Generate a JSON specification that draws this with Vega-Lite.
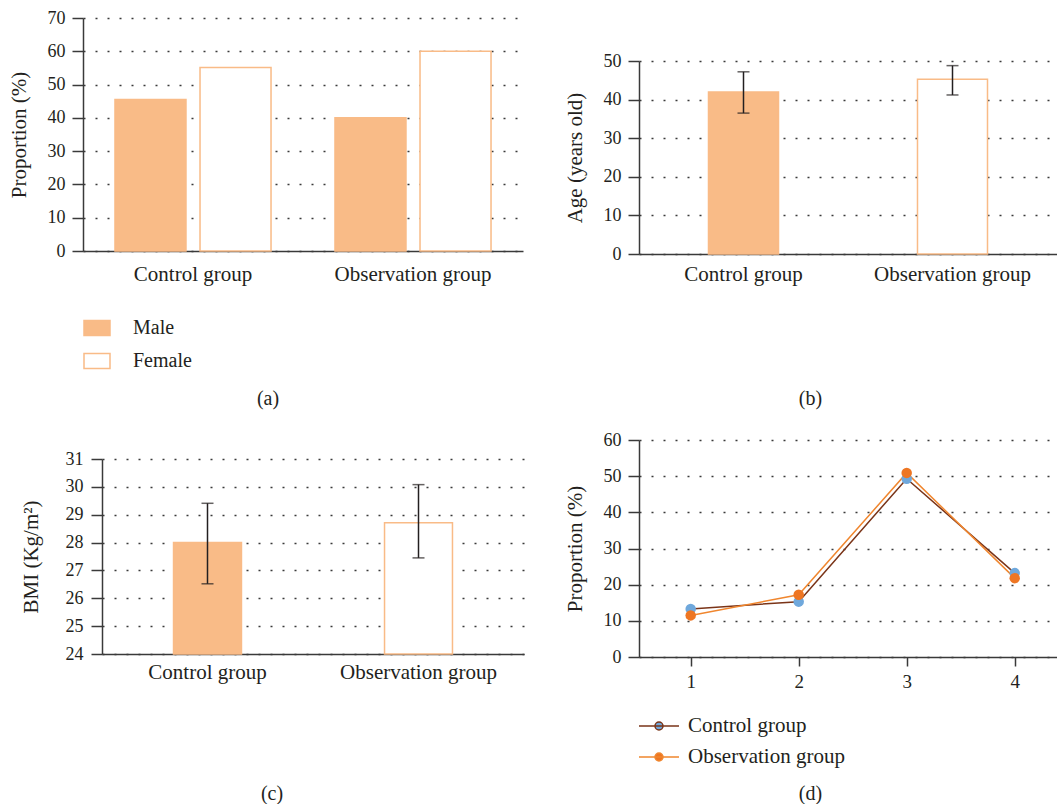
{
  "$schema": "https://vega.github.io/schema/vega-lite/v6.json",
  "padding": {"left": 8, "top": 9, "right": 0, "bottom": 0},
  "spacing": 22,
  "resolve": {"scale": {"fill": "independent", "color": "independent"}, "legend": {"fill": "independent", "color": "independent"}},
  "config": {
    "font": "Liberation Serif",
    "view": {"stroke": null},
    "axis": {
      "labelFont": "Liberation Serif", "labelFontSize": 18, "labelColor": "#231f20",
      "titleFont": "Liberation Serif", "titleFontSize": 21, "titleFontWeight": "normal", "titleColor": "#231f20",
      "domainColor": "#3a3a3a", "domainWidth": 1.5, "tickColor": "#3a3a3a", "tickWidth": 1.5,
      "gridColor": "#3a3a3a", "gridDash": [2, 10], "gridWidth": 1.3
    },
    "axisX": {"grid": false},
    "title": {"font": "Liberation Serif", "fontSize": 20, "fontWeight": "normal", "color": "#231f20", "orient": "bottom", "frame": "bounds", "anchor": "middle"},
    "legend": {"labelFont": "Liberation Serif", "labelFontSize": 20, "labelColor": "#231f20"}
  },
  "hconcat": [
    {
      "spacing": 41,
      "resolve": {"scale": {"fill": "independent", "color": "independent"}, "legend": {"fill": "independent", "color": "independent"}},
      "vconcat": [
        {
          "width": 421, "height": 233,
          "title": {"text": "(a)", "offset": 17, "dx": -7},
          "data": {"values": [
            {"group": "Control group", "sex": "Male", "value": 45.5},
            {"group": "Control group", "sex": "Female", "value": 55.1},
            {"group": "Observation group", "sex": "Male", "value": 40},
            {"group": "Observation group", "sex": "Female", "value": 60}
          ]},
          "mark": {"type": "bar", "stroke": "#f9bb87", "strokeWidth": 1.5},
          "encoding": {
            "x": {"field": "group", "type": "nominal", "sort": null, "scale": {"paddingInner": 0, "paddingOuter": 0, "range": [-19, 421]},
                  "axis": {"title": null, "labelAngle": 0, "ticks": false, "labelPadding": 12, "labelFontSize": 21}},
            "xOffset": {"field": "sex", "sort": ["Male", "Female"], "scale": {"paddingInner": 0.165, "paddingOuter": 0.376}},
            "y": {"field": "value", "type": "quantitative", "scale": {"domain": [0, 70]},
                  "axis": {"title": "Proportion (%)", "values": [0, 10, 20, 30, 40, 50, 60, 70], "grid": true, "offset": 19, "tickSize": 11, "labelPadding": 7, "titlePadding": 18}},
            "fill": {"field": "sex", "type": "nominal", "sort": ["Male", "Female"],
                     "scale": {"domain": ["Male", "Female"], "range": ["#f9bb87", "#ffffff"]},
                     "legend": {"title": null, "orient": "none", "legendX": -19, "legendY": 296, "direction": "vertical",
                                "symbolType": "M-1,-0.58H1V0.58H-1Z", "symbolSize": 676, "symbolStrokeColor": "#f9bb87", "symbolStrokeWidth": 1.5,
                                "labelOffset": 22, "rowPadding": 8}}
          }
        },
        {
          "width": 422, "height": 195,
          "title": {"text": "(c)", "offset": 102},
          "data": {"values": [
            {"group": "Control group", "value": 28.0, "lo": 26.52, "hi": 29.41},
            {"group": "Observation group", "value": 28.71, "lo": 27.45, "hi": 30.08}
          ]},
          "encoding": {
            "x": {"field": "group", "type": "nominal", "sort": null, "scale": {"paddingInner": 0, "paddingOuter": 0},
                  "axis": {"title": null, "labelAngle": 0, "ticks": false, "labelPadding": 7, "labelFontSize": 21}}
          },
          "layer": [
            {
              "mark": {"type": "bar", "stroke": "#f9bb87", "strokeWidth": 1.5, "width": {"band": 0.322}},
              "encoding": {
                "y": {"field": "value", "type": "quantitative", "scale": {"domain": [24, 31], "zero": false},
                      "axis": {"title": "BMI (Kg/m²)", "values": [24, 25, 26, 27, 28, 29, 30, 31], "grid": true, "tickSize": 11, "labelPadding": 8, "titlePadding": 24}},
                "y2": {"datum": 24},
                "fill": {"field": "group", "type": "nominal", "scale": {"domain": ["Control group", "Observation group"], "range": ["#f9bb87", "#ffffff"]}, "legend": null}
              }
            },
            {
              "mark": {"type": "rule", "color": "#231f20", "strokeWidth": 1.5},
              "encoding": {"y": {"field": "lo", "type": "quantitative", "scale": {"domain": [24, 31], "zero": false},
                      "axis": {"title": "BMI (Kg/m²)", "values": [24, 25, 26, 27, 28, 29, 30, 31], "grid": true, "tickSize": 11, "labelPadding": 8, "titlePadding": 24}}, "y2": {"field": "hi"}}
            },
            {
              "mark": {"type": "tick", "color": "#231f20", "thickness": 1.5, "size": 12},
              "encoding": {"y": {"field": "lo", "type": "quantitative", "scale": {"domain": [24, 31], "zero": false},
                      "axis": {"title": "BMI (Kg/m²)", "values": [24, 25, 26, 27, 28, 29, 30, 31], "grid": true, "tickSize": 11, "labelPadding": 8, "titlePadding": 24}}}
            },
            {
              "mark": {"type": "tick", "color": "#231f20", "thickness": 1.5, "size": 12},
              "encoding": {"y": {"field": "hi", "type": "quantitative", "scale": {"domain": [24, 31], "zero": false},
                      "axis": {"title": "BMI (Kg/m²)", "values": [24, 25, 26, 27, 28, 29, 30, 31], "grid": true, "tickSize": 11, "labelPadding": 8, "titlePadding": 24}}}
            }
          ]
        }
      ]
    },
    {
      "spacing": 22,
      "resolve": {"scale": {"fill": "independent", "color": "independent"}, "legend": {"fill": "independent", "color": "independent"}},
      "vconcat": [
        {"width": 10, "height": 12, "data": {"values": []}, "mark": "text"},
        {
          "width": 418, "height": 193,
          "title": {"text": "(b)", "offset": 105},
          "data": {"values": [
            {"group": "Control group", "value": 42, "lo": 36.5, "hi": 47.2},
            {"group": "Observation group", "value": 45.3, "lo": 41.2, "hi": 48.8}
          ]},
          "encoding": {
            "x": {"field": "group", "type": "nominal", "sort": null, "scale": {"paddingInner": 0, "paddingOuter": 0},
                  "axis": {"title": null, "labelAngle": 0, "ticks": false, "labelPadding": 9, "labelFontSize": 21}}
          },
          "layer": [
            {
              "mark": {"type": "bar", "stroke": "#f9bb87", "strokeWidth": 1.5, "width": {"band": 0.335}},
              "encoding": {
                "y": {"field": "value", "type": "quantitative", "scale": {"domain": [0, 50]},
                      "axis": {"title": "Age (years old)", "values": [0, 10, 20, 30, 40, 50], "grid": true, "tickSize": 11, "labelPadding": 7, "titlePadding": 18}},
                "fill": {"field": "group", "type": "nominal", "scale": {"domain": ["Control group", "Observation group"], "range": ["#f9bb87", "#ffffff"]}, "legend": null}
              }
            },
            {
              "mark": {"type": "rule", "color": "#231f20", "strokeWidth": 1.5},
              "encoding": {"y": {"field": "lo", "type": "quantitative", "scale": {"domain": [0, 50]},
                      "axis": {"title": "Age (years old)", "values": [0, 10, 20, 30, 40, 50], "grid": true, "tickSize": 11, "labelPadding": 7, "titlePadding": 18}}, "y2": {"field": "hi"}}
            },
            {
              "mark": {"type": "tick", "color": "#231f20", "thickness": 1.5, "size": 12},
              "encoding": {"y": {"field": "lo", "type": "quantitative", "scale": {"domain": [0, 50]},
                      "axis": {"title": "Age (years old)", "values": [0, 10, 20, 30, 40, 50], "grid": true, "tickSize": 11, "labelPadding": 7, "titlePadding": 18}}}
            },
            {
              "mark": {"type": "tick", "color": "#231f20", "thickness": 1.5, "size": 12},
              "encoding": {"y": {"field": "hi", "type": "quantitative", "scale": {"domain": [0, 50]},
                      "axis": {"title": "Age (years old)", "values": [0, 10, 20, 30, 40, 50], "grid": true, "tickSize": 11, "labelPadding": 7, "titlePadding": 18}}}
            }
          ]
        },
        {
          "width": 418, "height": 217,
          "title": {"text": "(d)", "offset": 17},
          "data": {"values": [
            {"x": "1", "group": "Control group", "value": 13.3},
            {"x": "2", "group": "Control group", "value": 15.3},
            {"x": "3", "group": "Control group", "value": 49.3},
            {"x": "4", "group": "Control group", "value": 23.2},
            {"x": "1", "group": "Observation group", "value": 11.5},
            {"x": "2", "group": "Observation group", "value": 17.2},
            {"x": "3", "group": "Observation group", "value": 50.9},
            {"x": "4", "group": "Observation group", "value": 21.8}
          ]},
          "resolve": {"scale": {"fill": "independent", "color": "independent"}, "legend": {"fill": "independent", "color": "independent"}},
          "encoding": {
            "x": {"field": "x", "type": "ordinal", "scale": {"type": "point", "padding": 0.435, "align": 0.55},
                  "axis": {"title": null, "labelAngle": 0, "ticks": true, "tickSize": 9, "labelPadding": 6, "labelFontSize": 19}},
            "y": {"field": "value", "type": "quantitative", "scale": {"domain": [0, 60]},
                  "axis": {"title": "Proportion (%)", "values": [0, 10, 20, 30, 40, 50, 60], "grid": true, "tickSize": 11, "labelPadding": 7, "titlePadding": 18}}
          },
          "layer": [
            {
              "mark": {"type": "line", "strokeWidth": 1.5},
              "encoding": {
                "color": {"field": "group", "type": "nominal",
                          "scale": {"domain": ["Control group", "Observation group"], "range": ["#7a3418", "#f0862e"]},
                          "legend": {"title": null, "orient": "none", "legendX": -1, "legendY": 265, "direction": "vertical",
                                     "symbolType": "M-1,0H1M-0.2,0A0.2,0.2,0,1,1,0.2,0A0.2,0.2,0,1,1,-0.2,0",
                                     "symbolSize": 1600, "symbolStrokeWidth": 1.5, "labelOffset": 8, "labelFontSize": 21, "rowPadding": -11,
                                     "encode": {"symbols": {"update": {"fill": [{"test": "datum.value === 'Control group'", "value": "#6fa8dc"}, {"value": "#ee7623"}]}}}}}
              }
            },
            {
              "mark": {"type": "point", "filled": true, "size": 110, "opacity": 1},
              "encoding": {
                "fill": {"field": "group", "type": "nominal",
                         "scale": {"domain": ["Control group", "Observation group"], "range": ["#6fa8dc", "#ee7623"]},
                         "legend": null}
              }
            }
          ]
        }
      ]
    }
  ]
}
